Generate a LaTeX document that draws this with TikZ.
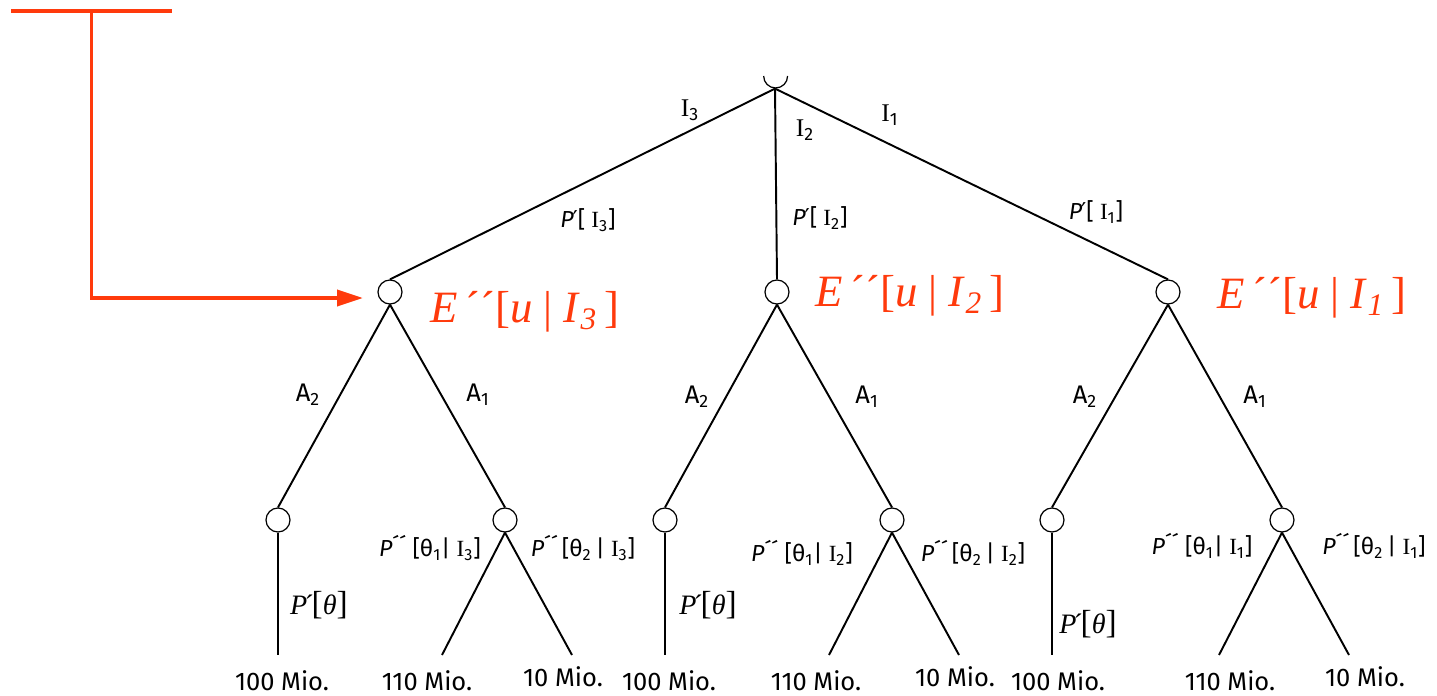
\documentclass[tikz,border=0pt]{standalone}
\usepackage{fontspec}
\setmainfont{Liberation Serif}
\setsansfont{Fira Sans}
\newfontfamily\zeichen{DejaVu Sans}
\usetikzlibrary{arrows.meta,calc}
\definecolor{sigrot}{HTML}{FF3A0C}
\newcommand{\Irm}[1]{\textrm{I}\textsubscript{#1}}
\newcommand{\Pprim}{\textit{P}{\zeichen\kern-0.05em′}}
\newcommand{\Pzwei}{\textit{P}´´}
\newcommand{\Pth}{{\rmfamily\fontsize{16}{18}\selectfont\textit{P}\kern-0.1em´\kern-0.08em{\fontsize{19}{19}\selectfont[}\textit{θ}{\fontsize{19}{19}\selectfont]}}}
\newcommand{\Eu}[1]{\textit{E}\,´´[\textit{u} | \textit{I}\textsubscript{\textit{#1}}\,]}

\begin{document}
\begin{tikzpicture}[x=0.02cm,y=-0.02cm,
  knot/.style={circle,draw,line width=0.7pt,minimum size=0.48cm,inner sep=0pt},
  ast/.style={line width=1.1pt},
  lab/.style={font=\sffamily\fontsize{14.5}{16}\selectfont,inner sep=0.5pt},
  plab/.style={font=\sffamily\fontsize{13.2}{15}\selectfont},
  erw/.style={text=sigrot,font=\rmfamily\fontsize{25.5}{28}\selectfont}]
  \useasboundingbox (0,0) rectangle (1437,696);
  % Wurzel, nur untere Hälfte
  \node[knot,draw=none] (root) at (775,76) {};
  \draw[line width=0.7pt] (root.east) arc[start angle=0,end angle=-180,radius=0.24cm];
  % drei Teilbäume: x links / x Mitte / x rechts / Index
  \foreach \xl/\xm/\xr/\i in {278/390/505/3,665/777/892/2,1052/1168/1282/1} {
    \node[knot] (m\i) at (\xm,292) {};
    \node[knot] (a\i) at (\xl,520) {};
    \node[knot] (b\i) at (\xr,520) {};
    \coordinate (u\i) at (\xl,655);
    \coordinate (v\i) at (\xr-63,655);
    \coordinate (w\i) at (\xr+67,655);
    \draw[ast] (root.south) -- (m\i.north);
    \draw[ast] (m\i.south) -- (a\i.north);
    \draw[ast] (m\i.south) -- (b\i.north);
    \draw[ast] (a\i.south) -- (u\i);
    \draw[ast] (b\i.south) -- (v\i);
    \draw[ast] (b\i.south) -- (w\i);
  }
  % Kanten oben
  \node[lab] (li3) at (690,110) {\Irm{3}};
  \node[lab] (li2) at (805,130) {\Irm{2}};
  \node[lab] (li1) at (890,115) {\Irm{1}};
  \foreach \x/\y/\i in {588/220/3,820/218/2,1096/212/1}
    \node[plab] (pi\i) at (\x,\y) {\Pprim[ \Irm{\i}]};
  % Erwartungswerte
  \foreach \x/\y/\i in {525/312/3,910/296/2,1312/298/1}
    \node[erw] (e\i) at (\x,\y) {\Eu{\i}};
  % Aktionen
  \foreach \xa/\xb/\y/\i in {308/478/395/3,697/867/397/2,1085/1255/397/1} {
    \node[lab] (aa\i) at (\xa,\y) {A\textsubscript{2}};
    \node[lab] (ab\i) at (\xb,\y) {A\textsubscript{1}};
  }
  % Wahrscheinlichkeiten unten
  \foreach \xa/\xb/\y/\i in {430/583/548/3,802/973/553/2,1202/1374/546/1} {
    \node[plab] (qa\i) at (\xa,\y) {\Pzwei\ [θ\textsubscript{1}| \Irm{\i}]};
    \node[plab] (qb\i) at (\xb,\y) {\Pzwei\,[θ\textsubscript{2}\,| \Irm{\i}]};
  }
  \foreach \x/\y/\i in {319/605/3,708/605/2,1088/624/1}
    \node (pt\i) at (\x,\y) {\Pth};
  % Auszahlungen
  \foreach \xa/\xb/\xc/\i in {282/427/563/3,669/816/955/2,1058/1230/1365/1} {
    \node[lab] (za\i) at (\xa,681) {100 Mio.};
    \node[lab] (zb\i) at (\xb,681) {110 Mio.};
    \node[lab] (zc\i) at (\xc,677) {10 Mio.};
  }
  % roter Pfeil
  \coordinate (bl) at (11,11);
  \coordinate (br) at (172,11);
  \coordinate (tip) at (363,298);
  \draw[sigrot,line width=2.2pt] (bl) -- (br);
  \draw[sigrot,line width=2.2pt,-{Triangle[length=0.52cm,width=0.32cm]}] ($(bl)!0.5!(br)$) |- (tip);
\end{tikzpicture}
\end{document}
